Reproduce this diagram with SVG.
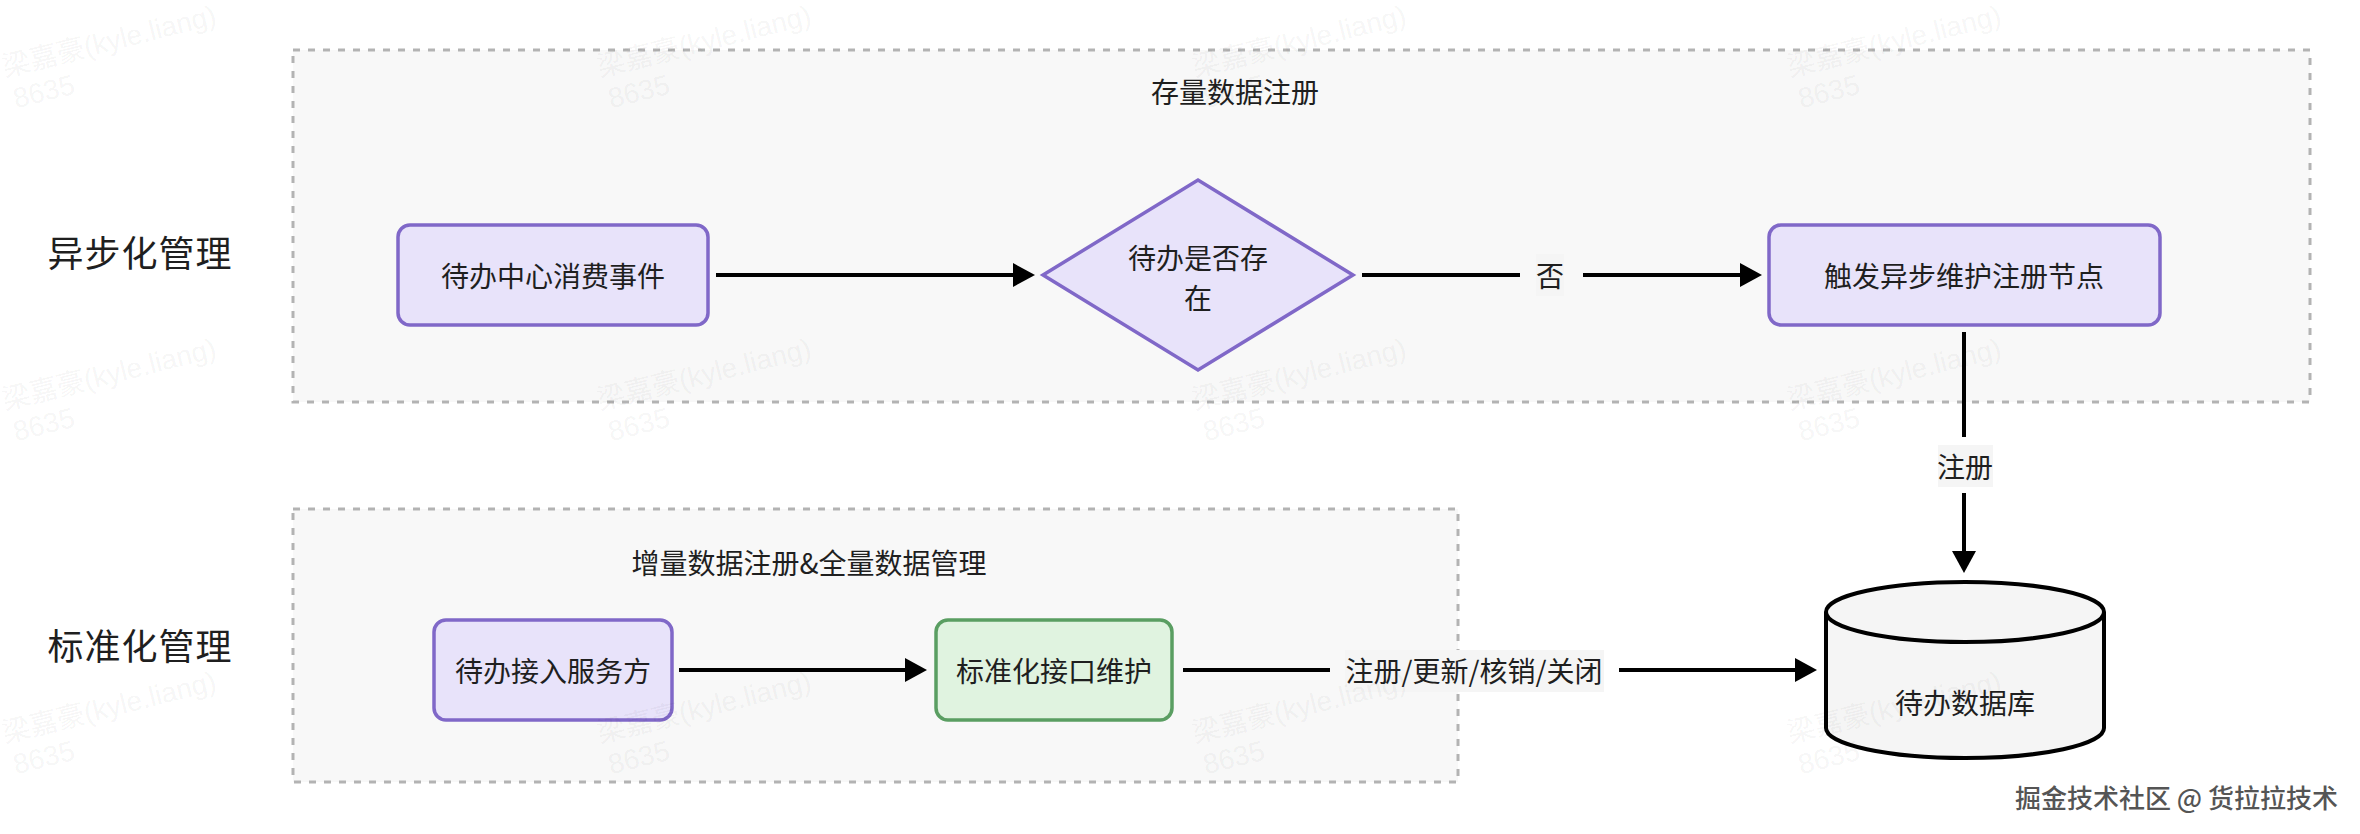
<svg xmlns="http://www.w3.org/2000/svg" width="2360" height="834" viewBox="0 0 2360 834">
<style>
  text { font-family: "Noto Sans CJK SC", "Noto Sans", sans-serif; fill: #1f1f1f; }
  .container { fill: #f8f8f8; stroke: #b3b3b3; stroke-width: 3; stroke-dasharray: 7 8; }
  .purple { fill: #e8e3fa; stroke: #8068c8; stroke-width: 3.5; }
  .green { fill: #e0f3e0; stroke: #5a9e62; stroke-width: 3.5; }
  .db { fill: #f5f5f5; stroke: #000; stroke-width: 4; }
  .lbl { font-size: 28px; text-anchor: middle; dominant-baseline: central; }
  .side { font-size: 36px; text-anchor: middle; dominant-baseline: central; letter-spacing: 1px; }
  .edge { stroke: #000; stroke-width: 4; fill: none; marker-end: url(#arrow); }
  .seg { stroke: #000; stroke-width: 4; fill: none; }
  .ebg { fill: #f5f5f5; }
  .wm { font-family: "Liberation Sans", "Noto Sans CJK SC", sans-serif; font-size: 28px; fill: #000; fill-opacity: 0.055; }
  .credit { font-size: 26px; font-weight: 500; fill: #555555; stroke: #ffffff; stroke-width: 1; paint-order: stroke; }
</style>
<defs>
  <marker id="arrow" viewBox="0 0 22 24" markerWidth="22" markerHeight="24" refX="0" refY="12" orient="auto" markerUnits="userSpaceOnUse">
    <path d="M0,0 L22,12 L0,24 Z" fill="#000"/>
  </marker>
</defs>
<rect width="2360" height="834" fill="#ffffff"/>

<g id="side-labels">
  <text class="side" x="140" y="251">异步化管理</text>
  <text class="side" x="140" y="644">标准化管理</text>
</g>

<g id="group-stock">
  <rect class="container" x="293" y="50" width="2017" height="352"/>
  <text class="lbl" x="1235" y="91">存量数据注册</text>
</g>

<g id="group-incremental">
  <rect class="container" x="293" y="509" width="1165" height="273"/>
  <text class="lbl" x="809" y="562">增量数据注册&amp;全量数据管理</text>
</g>

<g id="connectors">
  <line class="edge" x1="716" y1="275" x2="1013" y2="275"/>
  <line class="seg" x1="1362" y1="275" x2="1520" y2="275"/>
  <rect class="ebg" x="1536" y="254" width="28" height="42" fill="#f8f8f8"/>
  <text class="lbl" x="1550" y="275">否</text>
  <line class="edge" x1="1583" y1="275" x2="1740" y2="275"/>
  <line class="seg" x1="1964" y1="332" x2="1964" y2="437"/>
  <rect class="ebg" x="1938" y="445" width="55" height="42"/>
  <text class="lbl" x="1965" y="466">注册</text>
  <line class="edge" x1="1964" y1="493" x2="1964" y2="551"/>
  <line class="edge" x1="679" y1="670" x2="905" y2="670"/>
  <line class="seg" x1="1183" y1="670" x2="1330" y2="670"/>
  <rect class="ebg" x="1345" y="650" width="259" height="42"/>
  <text class="lbl" x="1474" y="670">注册/更新/核销/关闭</text>
  <line class="edge" x1="1619" y1="670" x2="1795" y2="670"/>
</g>

<g id="node-consume">
  <rect class="purple" x="398" y="225" width="310" height="100" rx="12"/>
  <text class="lbl" x="553" y="275">待办中心消费事件</text>
</g>

<g id="node-exists">
  <polygon class="purple" points="1043,275 1198,180 1353,275 1198,370"/>
  <text class="lbl" x="1198" y="257">待办是否存</text>
  <text class="lbl" x="1198" y="297">在</text>
</g>

<g id="node-async">
  <rect class="purple" x="1769" y="225" width="391" height="100" rx="12"/>
  <text class="lbl" x="1964" y="275">触发异步维护注册节点</text>
</g>

<g id="node-access">
  <rect class="purple" x="434" y="620" width="238" height="100" rx="12"/>
  <text class="lbl" x="553" y="670">待办接入服务方</text>
</g>

<g id="node-interface">
  <rect class="green" x="936" y="620" width="236" height="100" rx="12"/>
  <text class="lbl" x="1054" y="670">标准化接口维护</text>
</g>

<g id="node-db">
  <path class="db" d="M1826,612 A139,30 0 0 1 2104,612 L2104,728 A139,30 0 0 1 1826,728 Z"/>
  <path class="db" fill="none" d="M1826,612 A139,30 0 0 0 2104,612"/>
  <text class="lbl" x="1965" y="702">待办数据库</text>
</g>

<g id="watermarks">
  <g transform="translate(5,77) rotate(-14)"><text class="wm">梁嘉豪(kyle.liang)</text><text class="wm" x="3" y="33">8635</text></g>
  <g transform="translate(600,77) rotate(-14)"><text class="wm">梁嘉豪(kyle.liang)</text><text class="wm" x="3" y="33">8635</text></g>
  <g transform="translate(1195,77) rotate(-14)"><text class="wm">梁嘉豪(kyle.liang)</text><text class="wm" x="3" y="33">8635</text></g>
  <g transform="translate(1790,77) rotate(-14)"><text class="wm">梁嘉豪(kyle.liang)</text><text class="wm" x="3" y="33">8635</text></g>
  <g transform="translate(5,410) rotate(-14)"><text class="wm">梁嘉豪(kyle.liang)</text><text class="wm" x="3" y="33">8635</text></g>
  <g transform="translate(600,410) rotate(-14)"><text class="wm">梁嘉豪(kyle.liang)</text><text class="wm" x="3" y="33">8635</text></g>
  <g transform="translate(1195,410) rotate(-14)"><text class="wm">梁嘉豪(kyle.liang)</text><text class="wm" x="3" y="33">8635</text></g>
  <g transform="translate(1790,410) rotate(-14)"><text class="wm">梁嘉豪(kyle.liang)</text><text class="wm" x="3" y="33">8635</text></g>
  <g transform="translate(5,743) rotate(-14)"><text class="wm">梁嘉豪(kyle.liang)</text><text class="wm" x="3" y="33">8635</text></g>
  <g transform="translate(600,743) rotate(-14)"><text class="wm">梁嘉豪(kyle.liang)</text><text class="wm" x="3" y="33">8635</text></g>
  <g transform="translate(1195,743) rotate(-14)"><text class="wm">梁嘉豪(kyle.liang)</text><text class="wm" x="3" y="33">8635</text></g>
  <g transform="translate(1790,743) rotate(-14)"><text class="wm">梁嘉豪(kyle.liang)</text><text class="wm" x="3" y="33">8635</text></g>
</g>

<g id="credit">
  <text class="credit" x="2338" y="796" text-anchor="end" dominant-baseline="central">掘金技术社区 @ 货拉拉技术</text>
</g>
</svg>
